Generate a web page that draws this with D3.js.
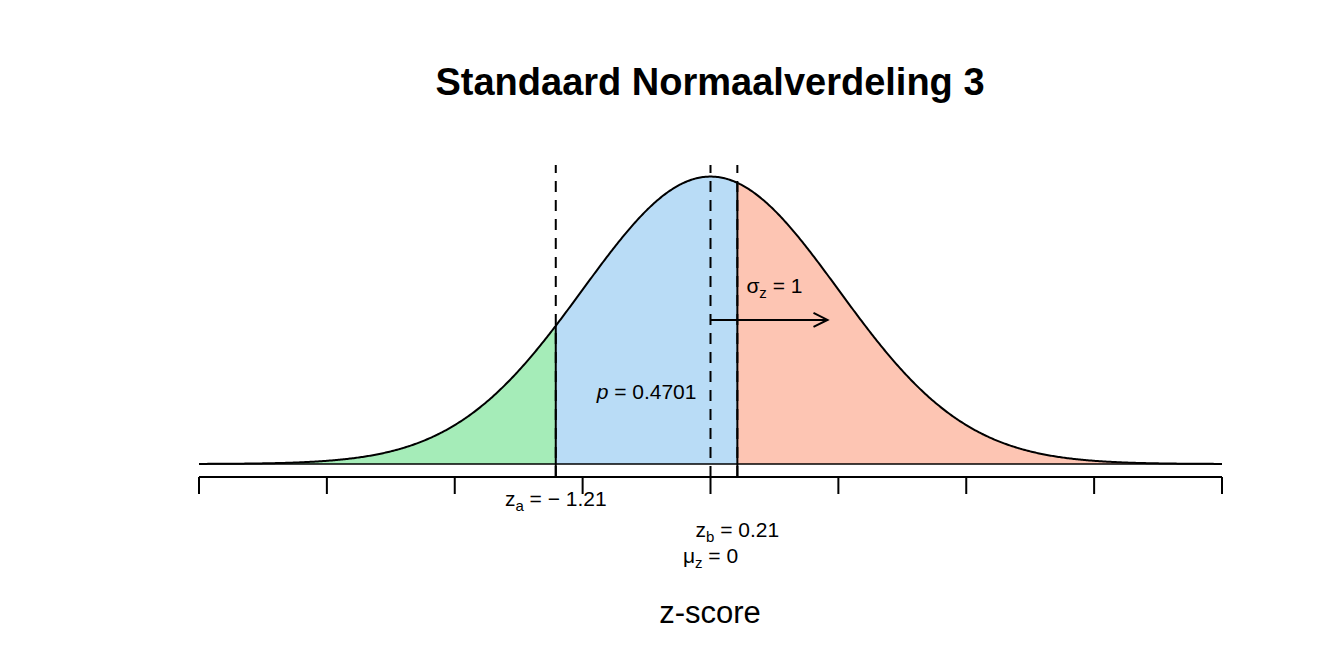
<!DOCTYPE html>
<html>
<head>
<meta charset="utf-8">
<script src="https://cdn.jsdelivr.net/npm/d3@7"></script>
<style>
  html, body { margin: 0; padding: 0; background: #ffffff; }
  svg { display: block; font-family: "Liberation Sans", Arial, Helvetica, sans-serif; }
</style>
</head>
<body>
<svg id="chart" width="1344" height="672"></svg>
<script>
// ---- data ----
const chartTitle = "Standaard Normaalverdeling 3";
const xLabel = "z-score";
const xDomain = [-4, 4];
const xTicks = [-4, -3, -2, -1, 0, 1, 2, 3, 4];
const zA = -1.21;
const zB = 0.21;
const muZ = 0;
const sigmaZ = 1;
const pValue = 0.4701;
const regionNames = ["left", "middle", "right"];
const regionColors = ["#a5ecb8", "#b9dcf6", "#fdc5b3"];
const yTop = 0.415;          // top of dashed reference lines (data units)
const arrowY = 0.2;          // height of sigma arrow (data units)
const arrowEnd = 0.915;      // arrow tip x (data units)
const sigmaLabelY = 0.247;
const pLabelY = 0.1;

// ---- layout ----
const svg = d3.select("#chart");
const x = d3.scaleLinear().domain(xDomain).range([199, 1222]);
const y = d3.scaleLinear().domain([0, yTop]).range([464, 165]);
const axisY = 477;

const dnorm = z => Math.exp(-z * z / 2) / Math.sqrt(2 * Math.PI);
const grid = d3.range(0, 801).map(i => xDomain[0] + i * (xDomain[1] - xDomain[0]) / 800);

function regionPts(a, b) {
  const pts = grid.filter(z => z > a && z < b);
  return [a, ...pts, b].map(z => [z, dnorm(z)]);
}
const regions = [
  [xDomain[0], zA],
  [zA, zB],
  [zB, xDomain[1]]
];

const area = d3.area().x(d => x(d[0])).y0(y(0)).y1(d => y(d[1]));
const line = d3.line().x(d => x(d[0])).y(d => y(d[1]));

// filled regions
svg.selectAll("path.region")
  .data(regions)
  .join("path")
  .attr("class", "region")
  .attr("d", r => area(regionPts(r[0], r[1])))
  .attr("fill", (r, i) => regionColors[i])
  .attr("stroke", "none");

// baseline
svg.append("line")
  .attr("x1", x(xDomain[0])).attr("x2", x(xDomain[1]))
  .attr("y1", y(0)).attr("y2", y(0))
  .attr("stroke", "#000").attr("stroke-width", 1.5);

// dashed reference lines
[zA, muZ, zB].forEach(v => {
  svg.append("line")
    .attr("x1", x(v)).attr("x2", x(v))
    .attr("y1", axisY).attr("y2", y(yTop))
    .attr("stroke", "#000").attr("stroke-width", 2)
    .attr("stroke-dasharray", "11,8");
});

// solid verticals at boundaries
[zA, zB].forEach(v => {
  svg.append("line")
    .attr("x1", x(v)).attr("x2", x(v))
    .attr("y1", axisY).attr("y2", y(dnorm(v)))
    .attr("stroke", "#000").attr("stroke-width", 2);
});

// density curve
svg.append("path")
  .attr("d", line(grid.map(z => [z, dnorm(z)])))
  .attr("fill", "none").attr("stroke", "#000").attr("stroke-width", 2);

// x axis (no labels)
svg.append("line")
  .attr("x1", x(xDomain[0])).attr("x2", x(xDomain[1]))
  .attr("y1", axisY).attr("y2", axisY)
  .attr("stroke", "#000").attr("stroke-width", 2);
svg.selectAll("line.tick")
  .data(xTicks)
  .join("line")
  .attr("class", "tick")
  .attr("x1", d => x(d)).attr("x2", d => x(d))
  .attr("y1", axisY).attr("y2", axisY + 17)
  .attr("stroke", "#000").attr("stroke-width", 2);

// sigma arrow
svg.append("line")
  .attr("x1", x(muZ)).attr("x2", x(arrowEnd))
  .attr("y1", y(arrowY)).attr("y2", y(arrowY))
  .attr("stroke", "#000").attr("stroke-width", 2);
svg.append("path")
  .attr("d", `M${x(arrowEnd) - 14},${y(arrowY) - 7} L${x(arrowEnd)},${y(arrowY)} L${x(arrowEnd) - 14},${y(arrowY) + 7}`)
  .attr("fill", "none").attr("stroke", "#000").attr("stroke-width", 2);

// text helpers
function subLabel(cx, by, main, sub, rest, italicMain) {
  const t = svg.append("text")
    .attr("x", cx).attr("y", by)
    .attr("text-anchor", "middle")
    .attr("font-size", 21)
    .attr("fill", "#000");
  t.append("tspan").text(main).attr("font-style", italicMain ? "italic" : null);
  if (sub) {
    t.append("tspan").text(sub).attr("font-size", 15).attr("dy", 5);
    t.append("tspan").text(rest).attr("dy", -5);
  } else {
    t.append("tspan").text(rest);
  }
  return t;
}

subLabel(x(zA), 506, "z", "a", " =  \u2212 1.21");
subLabel(x(zB), 537, "z", "b", " = " + zB.toFixed(2));
subLabel(x(muZ), 563, "\u03bc", "z", " = " + muZ);
subLabel(x(0.5), y(sigmaLabelY) + 7, "\u03c3", "z", " = " + sigmaZ);
subLabel(x((zA + zB) / 2), y(pLabelY) + 7, "p", null, " = " + pValue.toFixed(4), true);

// title
svg.append("text")
  .attr("x", 710).attr("y", 95)
  .attr("text-anchor", "middle")
  .attr("font-size", 38).attr("font-weight", "bold")
  .text(chartTitle);

// x label
svg.append("text")
  .attr("x", 710).attr("y", 623)
  .attr("text-anchor", "middle")
  .attr("font-size", 31)
  .text(xLabel);
</script>
</body>
</html>
